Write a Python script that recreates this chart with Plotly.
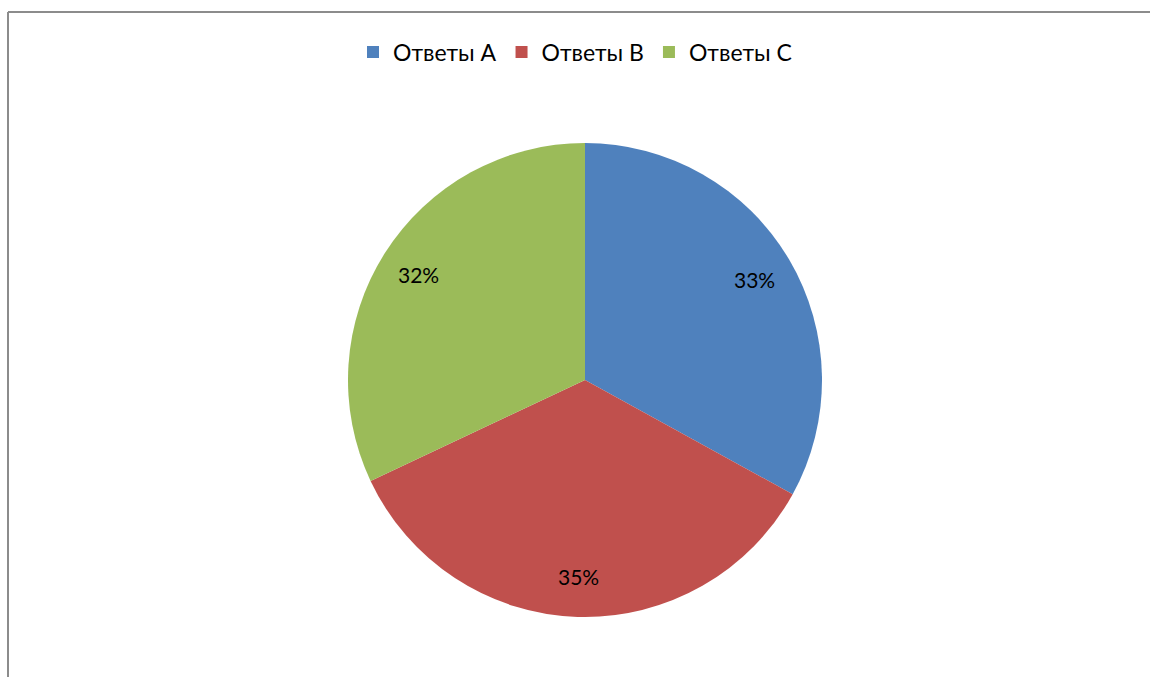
import math
import plotly.graph_objects as go

categories = ["Ответы A", "Ответы B", "Ответы C"]
values = [33, 35, 32]
colors = ["#4F81BD", "#C0504D", "#9BBB59"]

W, H = 1150, 677
cx, cy, R = 585, 380, 237  # pie centre/radius in pixels
label_r = 0.83

fig = go.Figure()
fig.add_trace(go.Pie(
    labels=categories,
    values=values,
    sort=False,
    direction="clockwise",
    rotation=0,
    marker=dict(colors=colors, line=dict(width=0)),
    textinfo="none",
    hoverinfo="label+percent",
    domain=dict(x=[(cx - R) / W, (cx + R) / W], y=[(H - cy - R) / H, (H - cy + R) / H]),
))

total = sum(values)
cum = 0
annotations = []
for v in values:
    mid = (cum + v / 2) / total * 2 * math.pi
    cum += v
    px = cx + label_r * R * math.sin(mid)
    py = cy - label_r * R * math.cos(mid)
    annotations.append(dict(
        x=px / W, y=1 - py / H, xref="paper", yref="paper",
        text=f"{round(v / total * 100)}%", showarrow=False,
        font=dict(family="Lato, Open Sans, sans-serif", size=21, color="#000000"),
        xanchor="center", yanchor="middle",
    ))

fig.update_layout(
    width=W, height=H,
    margin=dict(l=0, r=0, t=0, b=0),
    paper_bgcolor="white",
    plot_bgcolor="white",
    font=dict(family="Lato, Open Sans, sans-serif", size=21, color="#000000"),
    showlegend=True,
    legend=dict(
        orientation="h",
        x=0.5, xanchor="center",
        y=1 - 52 / H, yanchor="middle",
        font=dict(size=23),
        itemwidth=30,
        traceorder="normal",
    ),
    annotations=annotations,
    shapes=[
        dict(type="line", xref="paper", yref="paper", x0=8 / W, x1=8 / W, y0=0, y1=1 - 12 / H,
             line=dict(color="#8C8C8C", width=2)),
        dict(type="line", xref="paper", yref="paper", x0=8 / W, x1=1, y0=1 - 12 / H, y1=1 - 12 / H,
             line=dict(color="#8C8C8C", width=2)),
    ],
)

fig.write_html(
    "out.html",
    config={"displayModeBar": False},
    post_script="document.body.style.margin='0';document.body.style.overflow='hidden';",
)
